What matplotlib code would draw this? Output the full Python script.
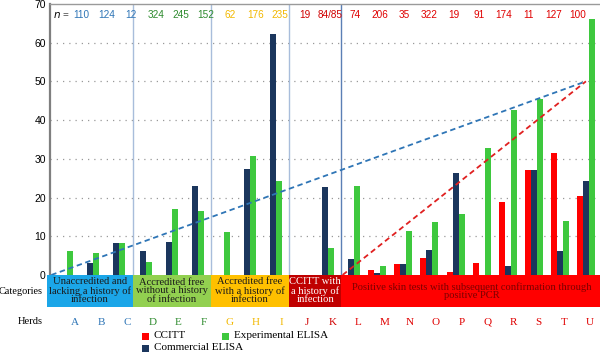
import matplotlib.pyplot as plt
from matplotlib.patches import Rectangle
from matplotlib.transforms import blended_transform_factory
import numpy as np

# herds and sample sizes
herds = list('ABCDEFGHIJKLMNOPQRSTU')
n_labels = ['110', '124', '12', '324', '245', '152', '62', '176', '235', '19', '84/85',
            '74', '206', '35', '322', '19', '91', '174', '11', '127', '100']

# positive percentages per test
ccitt = [0, 0, 0, 0, 0, 0, 0, 0, 0, 0, 0,
         0, 1.3, 2.8, 4.3, 0.9, 3.2, 18.9, 27.1, 31.4, 20.3]
commercial = [0, 3.2, 8.2, 6.1, 8.5, 23.0, 0, 27.3, 62.2, 0, 22.7,
              4.0, 0.4, 2.8, 6.5, 26.3, 0, 2.3, 27.1, 6.2, 24.3]
experimental = [6.3, 5.6, 8.2, 3.3, 17.1, 16.4, 11.2, 30.7, 24.3, 0, 6.9,
                23.0, 2.3, 11.4, 13.6, 15.7, 32.9, 42.5, 45.4, 14.0, 66.0]

# dashed guide lines (herd index, value)
blue_line_x = [-0.5, 20]
blue_line_y = [0, 50]
red_line_x = [10.67, 20]
red_line_y = [0, 50]

# categories
cat_names = ['Unaccredited and\nlacking a history of\ninfection',
             'Accredited free\nwithout a history\nof infection',
             'Accredited free\nwith a history of\ninfection',
             'CCITT with\na history of\ninfection',
             'Positive skin tests with subsequent confirmation through\npositive PCR']
cat_sizes = [3, 3, 3, 2, 10]
cat_fill = ['#1ba6e8', '#92d050', '#ffc000', '#c00000', '#ff0000']
cat_text = ['#1a1a1a', '#1a1a1a', '#1a1a1a', 'white', '#7a0000']
cat_label = ['#2e75b6', '#2e8b2e', '#f2b800', '#d00000', '#e00000']

RED = '#ff0000'
NAVY = '#1b365d'
GREEN = '#3ec83e'
SERIF = 'Liberation Serif'
SANS = 'Liberation Sans'

fig = plt.figure(figsize=(6, 3.53), dpi=100)
ax = fig.add_axes([0.0833, 0.221, 0.915, 0.768])

x = np.arange(len(herds))
w = 0.23
ax.bar(x - w, ccitt, w, color=RED, zorder=3)
ax.bar(x, commercial, w, color=NAVY, zorder=3)
ax.bar(x + w, experimental, w, color=GREEN, zorder=3)

ax.plot(blue_line_x, blue_line_y, ls=(0, (3, 2)), color='#2e75b6', lw=1.3, zorder=4)
ax.plot(red_line_x, red_line_y, ls=(0, (3, 2)), color='#e02020', lw=1.3, zorder=4)

ax.set_xlim(-0.55, 20.5)
ax.set_ylim(0, 70)
ax.set_yticks(range(0, 71, 10))
ax.set_xticks([])
ax.tick_params(axis='y', length=0, pad=3, labelsize=7.5)
for lab in ax.get_yticklabels():
    lab.set_fontfamily(SANS)
for y in range(10, 70, 10):
    ax.axhline(y, color='#999999', lw=0.9, ls=(0, (1, 4)), zorder=1)

for s in ['right', 'bottom']:
    ax.spines[s].set_visible(False)
ax.spines['left'].set_color('#7f7f7f')
ax.spines['left'].set_linewidth(1.6)
ax.spines['top'].set_color('#9a9a9a')
ax.spines['top'].set_linewidth(1.0)

trans = blended_transform_factory(ax.transData, ax.transAxes)

# group separators, boxes and labels
start = 0
for k, size in enumerate(cat_sizes):
    end = start + size
    left = -0.65 if k == 0 else start - 0.5 + 0.12
    right = 20.6 if k == len(cat_sizes) - 1 else end - 0.5 + 0.12
    if k < len(cat_sizes) - 1:
        sep_col = '#5b7fb5' if k == 3 else '#a8bddb'
        ax.axvline(end - 0.5 + 0.12, color=sep_col, lw=1.0, zorder=2)
    ax.add_patch(Rectangle((left, -0.118), right - left, 0.118, transform=trans,
                           facecolor=cat_fill[k], edgecolor='none', clip_on=False, zorder=5))
    ax.text((left + right) / 2, -0.059, cat_names[k], transform=trans, ha='center',
            va='center', fontsize=7.6, family=SERIF, color=cat_text[k],
            linespacing=0.95, zorder=6)
    for i in range(start, end):
        ax.text(0.42 + 0.987 * i, -0.175, herds[i], transform=trans, ha='center',
                va='center', fontsize=8, family=SERIF, color=cat_label[k])
        ax.text(0.66 + 0.952 * i, 0.958, n_labels[i], transform=trans, ha='center',
                va='center', fontsize=7.2, family=SANS, color=cat_label[k])
    start = end

ax.text(-0.42, 0.958, '$n$ =', transform=trans, ha='left', va='center',
        fontsize=7.5, family=SERIF, color='black')

fig.text(43 / 600, 1 - 291 / 353, 'Categories', ha='right', va='center',
         fontsize=7.4, family=SERIF)
fig.text(43 / 600, 1 - 322 / 353, 'Herds', ha='right', va='center',
         fontsize=7.6, family=SERIF)

# legend drawn by hand
legend_items = [('CCITT', RED, 142, 336), ('Commercial ELISA', NAVY, 142, 348),
                ('Experimental ELISA', GREEN, 222, 336)]
for name, col, px, py in legend_items:
    fig.add_artist(Rectangle((px / 600, 1 - (py + 3.5) / 353), 7 / 600, 7 / 353,
                             transform=fig.transFigure, facecolor=col, edgecolor='none'))
    fig.text((px + 12) / 600, 1 - py / 353, name, ha='left', va='center',
             fontsize=8, family=SERIF)

plt.savefig('out.png', dpi=100)
